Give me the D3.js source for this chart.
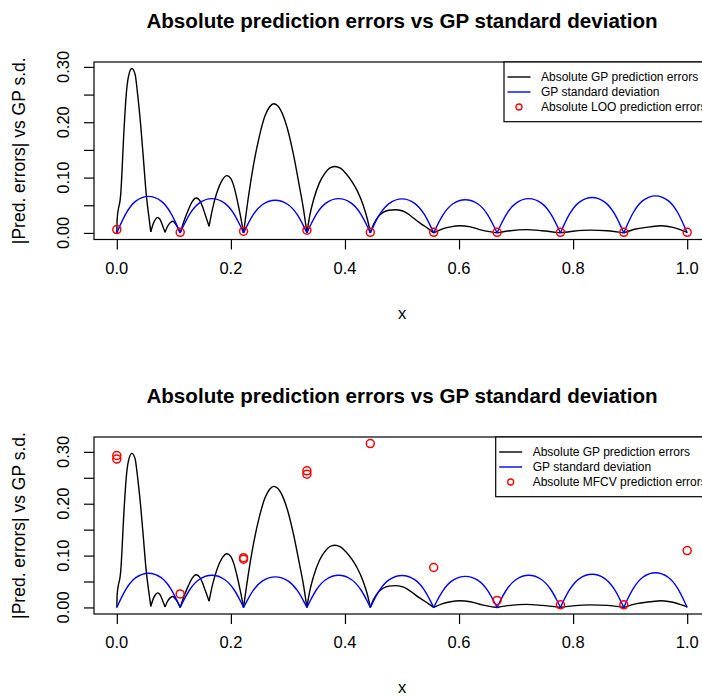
<!DOCTYPE html>
<html><head><meta charset="utf-8">
<script src="https://cdn.jsdelivr.net/npm/d3@7/dist/d3.min.js"></script>
<style>
html,body{margin:0;padding:0;background:#fff;overflow:hidden}
text{font-family:"Liberation Sans",Arial,Helvetica,sans-serif;fill:#000}
</style></head>
<body>
<svg id="c" width="702" height="697"></svg>
<script>
// ---------- data ----------
const titleText = "Absolute prediction errors vs GP standard deviation";
const yLabelText = "|Pred. errors| vs GP s.d.";
const xLabelText = "x";
const legendLabels = ["Absolute GP prediction errors", "GP standard deviation"];
const circleLabels = ["Absolute LOO prediction errors", "Absolute MFCV prediction errors"];

const xTicks = [0, 0.2, 0.4, 0.6, 0.8, 1.0];
const xTickLabels = ["0.0", "0.2", "0.4", "0.6", "0.8", "1.0"];
const yTicks = [0, 0.05, 0.10, 0.15, 0.20, 0.25, 0.30];
const yTickLabels = ["0.00", "", "0.10", "", "0.20", "", "0.30"];

// absolute GP prediction error curve
const errX = [0,0.0005,0.007,0.0128,0.0165,0.0205,0.0263,0.032,0.036,0.042,0.0467,0.0514,0.0555,0.0596,0.064,0.068,0.0718,0.076,0.080,0.0846,0.089,0.094,0.0985,0.103,0.107,0.1111,
  0.118,0.1255,0.132,0.139,0.145,0.150,0.155,0.1618,0.167,0.1752,0.184,0.193,0.200,0.205,0.2103,0.216,0.2222,
  0.230,0.240,0.250,0.260,0.268,0.275,0.282,0.290,0.300,0.310,0.320,0.327,0.3333,
  0.338,0.345,0.355,0.365,0.373,0.382,0.392,0.402,0.412,0.422,0.432,0.440,0.4444,
  0.450,0.458,0.467,0.477,0.488,0.500,0.510,0.520,0.530,0.540,0.548,0.5556,
  0.570,0.585,0.601,0.620,0.640,0.6667,
  0.690,0.718,0.745,0.7778,
  0.800,0.830,0.860,0.8889,
  0.910,0.935,0.955,0.975,0.990,1.0];
const errY = [0,0.023,0.072,0.19,0.25,0.283,0.297,0.287,0.255,0.193,0.133,0.072,0.035,0.002,0.017,0.025,0.028,0.024,0.014,0.001,0.012,0.019,0.021,0.016,0.009,0,
  0.022,0.042,0.056,0.063,0.059,0.048,0.033,0.012,0.040,0.072,0.094,0.1035,0.098,0.085,0.063,0.035,0,
  0.060,0.125,0.175,0.212,0.228,0.2335,0.230,0.216,0.185,0.140,0.085,0.045,0,
  0.030,0.060,0.090,0.108,0.117,0.120,0.117,0.107,0.093,0.075,0.050,0.022,0,
  0.015,0.029,0.037,0.041,0.042,0.040,0.035,0.027,0.019,0.012,0.006,0,
  0.007,0.011,0.013,0.011,0.005,0,
  0.004,0.006,0.004,0,
  0.003,0.005,0.004,0,
  0.007,0.011,0.013,0.010,0.005,0.001];

// GP standard deviation curve
const sdX = [0,0.0056,0.0167,0.0333,0.0556,0.0778,0.0944,0.1056,
  0.1111,0.1167,0.1278,0.1444,0.1667,0.1889,0.2056,0.2167,
  0.2222,0.2278,0.2389,0.2556,0.2778,0.3000,0.3167,0.3278,
  0.3333,0.3389,0.3500,0.3667,0.3889,0.4111,0.4278,0.4389,
  0.4444,0.4500,0.4611,0.4778,0.5000,0.5222,0.5389,0.5500,
  0.5556,0.5611,0.5722,0.5889,0.6111,0.6333,0.6500,0.6611,
  0.6667,0.6722,0.6833,0.7000,0.7222,0.7444,0.7611,0.7722,
  0.7778,0.7833,0.7944,0.8111,0.8333,0.8556,0.8722,0.8833,
  0.8889,0.8944,0.9056,0.9222,0.9444,0.9667,0.9833,0.9944,1.0];
const sdY = [0,0.0132,0.0363,0.0574,0.066,0.0574,0.0363,0.0132,
  0,0.0124,0.0341,0.0539,0.062,0.0539,0.0341,0.0124,
  0,0.0118,0.0325,0.0513,0.059,0.0513,0.0325,0.0118,
  0,0.0124,0.0341,0.0539,0.062,0.0539,0.0341,0.0124,
  0,0.0123,0.0338,0.0535,0.0615,0.0535,0.0338,0.0123,
  0,0.012,0.033,0.0522,0.060,0.0522,0.033,0.012,
  0,0.0124,0.0341,0.0539,0.062,0.0539,0.0341,0.0124,
  0,0.0128,0.0352,0.0557,0.064,0.0557,0.0352,0.0128,
  0,0.0134,0.0369,0.0583,0.067,0.0583,0.0369,0.0134,0];

// LOO errors (top) and MFCV errors (bottom)
const looX = [0,0.1111,0.2222,0.3333,0.4444,0.5556,0.6667,0.7778,0.8889,1.0];
const looY = [0.006,0.001,0.003,0.005,0.001,0.001,0.001,0.001,0.001,0.001];
const mfcvX = [0,0,0.1111,0.2222,0.2222,0.3333,0.3333,0.4444,0.5556,0.6667,0.7778,0.8889,1.0];
const mfcvY = [0.293,0.286,0.026,0.096,0.093,0.2635,0.257,0.316,0.077,0.0135,0.005,0.005,0.1096];

// ---------- drawing ----------
const svg = d3.select("#c");
const zip = (xs, ys) => xs.map((x, i) => [x, ys[i]]);
const errPts = zip(errX, errY), sdPts = zip(sdX, sdY);

// split a curve at its local minima so cusps stay sharp
function segments(pts){
  const segs = []; let cur = [pts[0]];
  for (let i = 1; i < pts.length; i++){
    cur.push(pts[i]);
    const isMin = i < pts.length - 1 && pts[i][1] <= pts[i-1][1] && pts[i][1] <= pts[i+1][1];
    if (isMin){ segs.push(cur); cur = [pts[i]]; }
  }
  if (cur.length > 1) segs.push(cur);
  return segs;
}

const panels = [
  {top: 62, bottom: 239.5, cx: looX, cy: looY, clabel: circleLabels[0], legLeft: 504, legBottom: 121.7},
  {top: 437, bottom: 614, cx: mfcvX, cy: mfcvY, clabel: circleLabels[1], legLeft: 495.7, legBottom: 496.7}
];

const x = d3.scaleLinear().domain([-0.04, 1.04]).range([94, 710]);

panels.forEach(p => {
  const M = d3.max([d3.max(errY), d3.max(sdY), d3.max(p.cy)]);
  const y = d3.scaleLinear().domain([-0.04 * M, 1.04 * M]).range([p.bottom, p.top]);
  const g = svg.append("g");

  const clipId = "clip" + p.top;
  svg.append("clipPath").attr("id", clipId).append("rect")
    .attr("x", 94).attr("y", p.top).attr("width", 616).attr("height", p.bottom - p.top);
  const plot = g.append("g").attr("clip-path", `url(#${clipId})`);

  const line = d3.line().x(d => x(d[0])).y(d => y(d[1])).curve(d3.curveMonotoneX);
  segments(errPts).forEach(s => plot.append("path").attr("d", line(s))
    .attr("fill", "none").attr("stroke", "#000").attr("stroke-width", 1.4));
  segments(sdPts).forEach(s => plot.append("path").attr("d", line(s))
    .attr("fill", "none").attr("stroke", "#0000ff").attr("stroke-width", 1.4));
  plot.selectAll("circle.pt").data(zip(p.cx, p.cy)).enter().append("circle")
    .attr("cx", d => x(d[0])).attr("cy", d => y(d[1])).attr("r", 4)
    .attr("fill", "none").attr("stroke", "#ff0000").attr("stroke-width", 1.5);

  // box
  g.append("rect").attr("x", 94).attr("y", p.top).attr("width", 616).attr("height", p.bottom - p.top)
    .attr("fill", "none").attr("stroke", "#000").attr("stroke-width", 1.2);

  // axes
  const ax = g.append("g").attr("transform", `translate(0,${p.bottom})`)
    .call(d3.axisBottom(x).tickValues(xTicks).tickSize(10).tickFormat(""));
  ax.select(".domain").remove();
  ax.selectAll("line").attr("stroke-width", 1.2);
  const ay = g.append("g").attr("transform", `translate(94,0)`)
    .call(d3.axisLeft(y).tickValues(yTicks).tickSize(10).tickFormat(""));
  ay.select(".domain").remove();
  ay.selectAll("line").attr("stroke-width", 1.2);

  xTicks.forEach((t, i) => g.append("text").attr("x", x(t)).attr("y", p.bottom + 34)
    .attr("text-anchor", "middle").style("font-size", "16.5px").text(xTickLabels[i]));
  yTicks.forEach((t, i) => { if (yTickLabels[i]) g.append("text")
    .attr("transform", `translate(69,${y(t)}) rotate(-90)`)
    .attr("text-anchor", "middle").style("font-size", "16.5px").text(yTickLabels[i]); });

  // titles
  g.append("text").attr("x", 402).attr("y", p.top - 34).attr("text-anchor", "middle")
    .style("font-size", "20.6px").style("font-weight", "bold").text(titleText);
  g.append("text").attr("x", 402).attr("y", p.bottom + 79).attr("text-anchor", "middle")
    .style("font-size", "16.5px").text(xLabelText);
  g.append("text").attr("transform", `translate(25,${(p.top + p.bottom) / 2}) rotate(-90)`)
    .attr("text-anchor", "middle").style("font-size", "17.5px").text(yLabelText);

  // legend
  const lg = g.append("g");
  lg.append("rect").attr("x", p.legLeft).attr("y", p.top).attr("width", 710 - p.legLeft)
    .attr("height", p.legBottom - p.top).attr("fill", "#fff").attr("stroke", "#000").attr("stroke-width", 1.2);
  const rows = [p.top + 15, p.top + 30, p.top + 45];
  const lx0 = p.legLeft + 3.5, lx1 = p.legLeft + 26.5, tx = p.legLeft + 37;
  lg.append("line").attr("x1", lx0).attr("x2", lx1).attr("y1", rows[0]).attr("y2", rows[0]).attr("stroke", "#000").attr("stroke-width", 1.4);
  lg.append("line").attr("x1", lx0).attr("x2", lx1).attr("y1", rows[1]).attr("y2", rows[1]).attr("stroke", "#0000ff").attr("stroke-width", 1.4);
  lg.append("circle").attr("cx", (lx0 + lx1) / 2).attr("cy", rows[2]).attr("r", 3)
    .attr("fill", "none").attr("stroke", "#ff0000").attr("stroke-width", 1.3);
  [legendLabels[0], legendLabels[1], p.clabel].forEach((t, i) => lg.append("text")
    .attr("x", tx).attr("y", rows[i]).attr("dy", "0.35em").style("font-size", "12px").text(t));
});
</script>
</body></html>
